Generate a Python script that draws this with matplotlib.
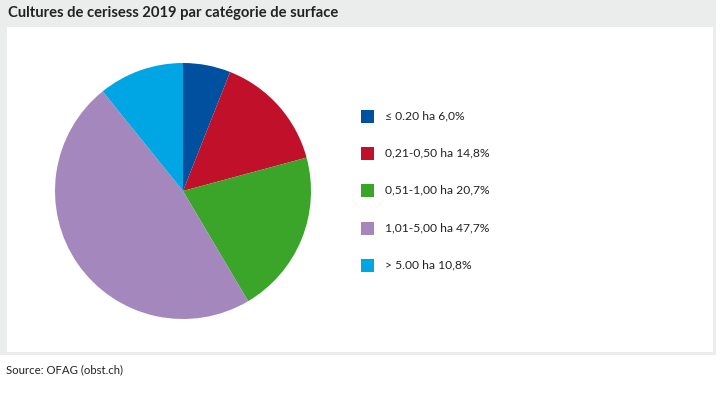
import matplotlib
matplotlib.use("Agg")
import matplotlib.pyplot as plt
from matplotlib.patches import Rectangle

categories = ["≤ 0.20 ha", "0,21-0,50 ha", "0,51-1,00 ha", "1,01-5,00 ha", "> 5.00 ha"]
values = [6.0, 14.8, 20.7, 47.7, 10.8]
value_labels = ["6,0%", "14,8%", "20,7%", "47,7%", "10,8%"]
colors = ["#0050a0", "#c0102a", "#3aa529", "#a387bd", "#00a5e3"]

W, H = 720, 403
fig = plt.figure(figsize=(W / 100, H / 100), dpi=100)
fig.patch.set_facecolor("white")

def fx(x):
    return x / W

def fy(y):
    return 1 - y / H

FONT = ["Lato", "DejaVu Sans"]

# gray frame
fig.patches.append(Rectangle((0, fy(355)), fx(716), 355 / H, transform=fig.transFigure,
                             facecolor="#ebecec", edgecolor="none", zorder=0))
# white panel
fig.patches.append(Rectangle((fx(7), fy(352)), fx(706), (352 - 27) / H, transform=fig.transFigure,
                             facecolor="white", edgecolor="none", zorder=1))

fig.text(fx(8), fy(13), "Cultures de cerisess 2019 par catégorie de surface",
         fontsize=10.6, fontweight="bold", family=FONT,
         color="#222222", va="center", ha="left")
fig.text(fx(6), fy(370), "Source: OFAG (obst.ch)", fontsize=8.2,
         family=FONT, color="#222222", va="center", ha="left")

cx, cy, r = 183, 191, 128
ax = fig.add_axes([fx(cx - r), fy(cy + r), 2 * r / W, 2 * r / H])
ax.pie(values, colors=colors, startangle=90, counterclock=False, radius=1,
       wedgeprops=dict(linewidth=0))
ax.set_xlim(-1, 1)
ax.set_ylim(-1, 1)
ax.set_aspect("equal")
ax.axis("off")
ax.set_zorder(2)

rows_y = [116, 153, 190, 228, 265]
for cat, lab, col, yy in zip(categories, value_labels, colors, rows_y):
    fig.patches.append(Rectangle((fx(361), fy(yy + 6.5)), fx(13), 13 / H, transform=fig.transFigure,
                                 facecolor=col, edgecolor="none", zorder=3))
    fig.text(fx(385), fy(yy), f"{cat} {lab}", fontsize=8.7,
             family=FONT, color="#222222", va="center", ha="left", zorder=3)

fig.savefig("out.png", dpi=100, facecolor="white")
